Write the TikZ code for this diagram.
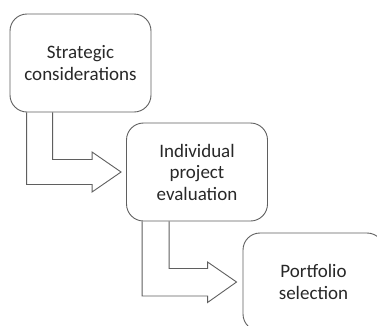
\documentclass[tikz,border=0pt]{standalone}
\usepackage{fontspec}
\setmainfont{Carlito}
\usetikzlibrary{calc}
\definecolor{edge}{RGB}{95,95,95}
\definecolor{ink}{RGB}{40,40,40}
\tikzset{
  stage/.style={draw=edge, line width=0.9pt, rounded corners=17pt,
    minimum width=141pt, minimum height=98pt, inner sep=0pt,
    align=center, text=ink, font=\fontsize{19}{21.5}\selectfont},
  flow/.style={draw=edge, line width=0.9pt, line join=miter}
}
\begin{document}
\begin{tikzpicture}[x=1pt,y=-1pt]
  \useasboundingbox (0,0) rectangle (377,325);
  \clip (0,0) rectangle (377,325);
  \fill[white] (0,0) rectangle (377,325);

  % the three stages
  \node[stage] (s1) at (80.5,63)  {Strategic\\considerations};
  \node[stage] (s2) at (197,172)  {Individual\\project\\evaluation};
  \node[stage] (s3) at (313.5,282) {Portfolio\\selection};

  % elbow block arrows between consecutive stages
  \draw[flow] ($(s1.south west)+(17,0)$) |- ($(s2.west)+(-34,12.5)$)
    -- ++(0,7.5) -- ($(s2.west)+(-5,0)$) -- ($(s2.west)+(-34,-20)$)
    -- ++(0,7.5) -| ($(s1.south west)+(43,0)$);
  \draw[flow] ($(s2.south west)+(16,0)$) |- ($(s3.west)+(-35,14)$)
    -- ++(0,6.5) -- ($(s3.west)+(-6,0)$) -- ($(s3.west)+(-35,-20)$)
    -- ++(0,6.5) -| ($(s2.south west)+(43,0)$);
\end{tikzpicture}
\end{document}
